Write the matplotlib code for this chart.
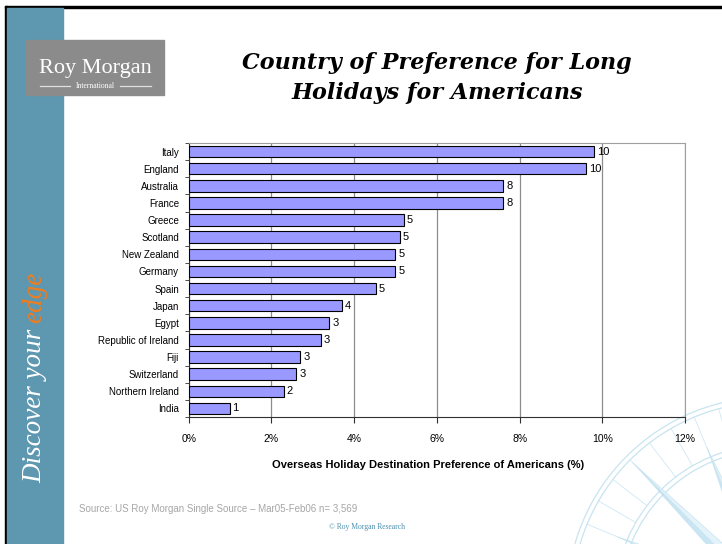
import numpy as np
import matplotlib
matplotlib.use("Agg")
import matplotlib.pyplot as plt
from matplotlib.patches import Rectangle, Circle, Polygon

# Survey results, % of Americans naming each country
countries = ["Italy", "England", "Australia", "France", "Greece", "Scotland",
             "New Zealand", "Germany", "Spain", "Japan", "Egypt",
             "Republic of Ireland", "Fiji", "Switzerland", "Northern Ireland",
             "India"]
shares = [9.81, 9.61, 7.61, 7.61, 5.2, 5.11, 5.0, 5.0, 4.52, 3.71, 3.4,
          3.2, 2.7, 2.6, 2.3, 0.99]
x_ticks = [0, 2, 4, 6, 8, 10, 12]

W, H = 722, 544
sans = "Liberation Sans"

fig = plt.figure(figsize=(W / 100, H / 100), dpi=100)

# slide background drawn in pixel coordinates
bg = fig.add_axes([0, 0, 1, 1], zorder=0)
bg.set_xlim(0, W)
bg.set_ylim(H, 0)
bg.axis("off")

bg.add_patch(Rectangle((5, 6), W, 2.2, color="black"))
bg.add_patch(Rectangle((5, 6), 2.2, H, color="black"))
bg.add_patch(Rectangle((7.2, 8.2), 56, H, color="#5e97b0"))

# compass rose watermark, bottom right
cx, cy = 770, 600
wm = "#c8e4f1"
for r in (150, 155, 198, 203):
    bg.add_patch(Circle((cx, cy), r, fill=False, ec=wm, lw=0.9))
for a in np.arange(0, 360, 7.5):
    t = np.radians(a)
    bg.plot([cx + 155 * np.cos(t), cx + 198 * np.cos(t)],
            [cy - 155 * np.sin(t), cy - 198 * np.sin(t)], color=wm, lw=0.5)
for a in np.arange(0, 360, 22.5):
    t = np.radians(a)
    length = 195 if a % 45 == 0 else 165
    half = np.radians(4)
    tip = (cx + length * np.cos(t), cy - length * np.sin(t))
    side1 = (cx + 40 * np.cos(t + half * 3), cy - 40 * np.sin(t + half * 3))
    side2 = (cx + 40 * np.cos(t - half * 3), cy - 40 * np.sin(t - half * 3))
    bg.add_patch(Polygon([(cx, cy), side1, tip], closed=True, fc="#b3daee", ec="none", alpha=0.7))
    bg.add_patch(Polygon([(cx, cy), side2, tip], closed=True, fc="#e4f2f9", ec=wm, lw=0.5))

# logo box
bg.add_patch(Rectangle((26, 40), 138, 55, color="#8b8b8b"))
bg.text(95, 68, "Roy Morgan", color="white", fontsize=16,
        family="Liberation Serif", ha="center", va="center")
bg.text(95, 86.5, "International", color="white", fontsize=5.5,
        family="Liberation Serif", ha="center", va="center")
bg.plot([40, 70], [86, 86], color="#e0e0e0", lw=0.9)
bg.plot([120, 151], [86, 86], color="#e0e0e0", lw=0.9)

# title and footer text
fig.text(437 / W, 1 - 78 / H, "Country of Preference for Long\nHolidays for Americans",
         family="DejaVu Serif", weight="bold", style="italic", fontsize=16,
         ha="center", va="center", linespacing=1.45)
fig.text(428 / W, 1 - 465 / H, "Overseas Holiday Destination Preference of Americans (%)",
         family=sans, weight="bold", fontsize=8, ha="center", va="center")
fig.text(79 / W, 1 - 509 / H, "Source: US Roy Morgan Single Source \u2013 Mar05-Feb06 n= 3,569",
         family=sans, fontsize=7, color="#a6a6a6", ha="left", va="center")
fig.text(367 / W, 1 - 527 / H, "\u00a9 Roy Morgan Research",
         family="Liberation Serif", fontsize=5.5, color="#4a90b0", ha="center", va="center")

# vertical tagline in the side strip
t1 = bg.text(41, 483, "Discover your", rotation=90, rotation_mode="anchor",
             ha="left", va="baseline", color="white", fontsize=19.5,
             family="Liberation Serif", style="italic")
fig.canvas.draw()
ext = t1.get_window_extent().transformed(bg.transData.inverted())
top = min(ext.y0, ext.y1)
bg.text(41, top - 6, "edge", rotation=90, rotation_mode="anchor",
        ha="left", va="baseline", color="#f07d1e", fontsize=19.5,
        family="Liberation Serif", style="italic")

# bar chart
ax = fig.add_axes([188.7 / W, 1 - 417 / H, (685 - 188.7) / W, (417 - 143) / H], zorder=2)
ax.set_facecolor("none")
pos = np.arange(len(countries))
ax.barh(pos, shares, height=0.67, color="#9999ff", edgecolor="black", linewidth=0.8, zorder=3)
for p, v in zip(pos, shares):
    ax.text(v + 0.07, p, f"{v:.0f}", va="center", ha="left", fontsize=8, family=sans, zorder=4)

ax.set_xlim(0, 12)
ax.set_ylim(len(countries) - 0.5, -0.5)
ax.set_xticks(x_ticks)
ax.set_xticklabels([f"{v}%" for v in x_ticks], family=sans, fontsize=7.5)
ax.set_yticks(pos)
ax.set_yticklabels(countries, family=sans, fontsize=7)
ax.set_yticks(np.arange(-0.5, len(countries), 1), minor=True)
ax.tick_params(axis="y", which="major", length=0, pad=7)
ax.tick_params(axis="y", which="minor", length=3, direction="out", color="#303030")
ax.tick_params(axis="x", length=4, direction="out", color="#303030", pad=8)
ax.xaxis.grid(True, color="#8c8c8c", lw=0.9, zorder=0)
ax.set_axisbelow(True)
for s in ("top", "right"):
    ax.spines[s].set_color("#a0a0a0")
for s in ("left", "bottom"):
    ax.spines[s].set_color("#303030")

fig.savefig("out.png", dpi=100)
